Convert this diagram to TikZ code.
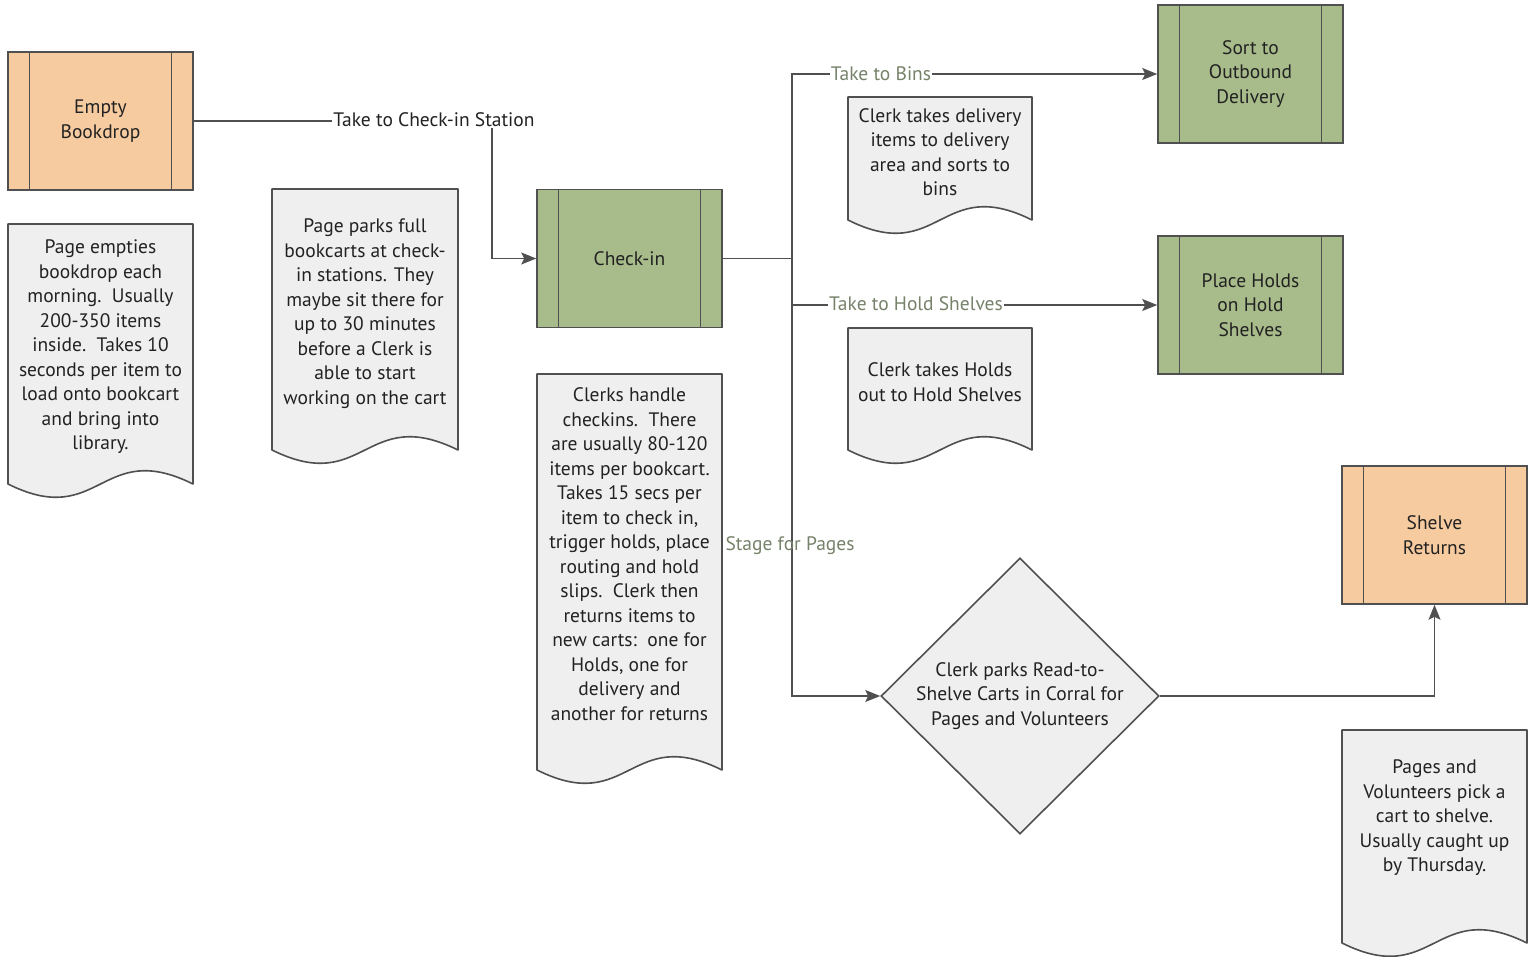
\documentclass[tikz,border=0pt]{standalone}
\usepackage{fontspec}
\setmainfont{PT Sans}
\usetikzlibrary{shapes.geometric,arrows.meta,calc}

\definecolor{edge}{HTML}{505050}
\definecolor{orangefill}{HTML}{F7CBA0}
\definecolor{greenfill}{HTML}{A8BB8A}
\definecolor{docfill}{HTML}{EFEFEF}
\definecolor{txt}{HTML}{222222}
\definecolor{lblgreen}{HTML}{76826A}

\tikzset{
  proc/.style={draw=edge, line width=1.6pt, minimum width=185pt, minimum height=138pt,
    inner sep=0pt, align=center, font=\fontsize{19.5}{24.5}\selectfont, text=txt},
  orangeproc/.style={proc, fill=orangefill},
  greenproc/.style={proc, fill=greenfill},
  doctext/.style={align=center, inner sep=0pt, font=\fontsize{19.5}{24.5}\selectfont, text=txt},
  docline/.style={draw=edge, fill=docfill, line width=1.6pt, line join=round},
  conn/.style={draw=edge, line width=1.3pt},
  flow/.style={conn, -{Stealth[length=15pt, width=12pt, inset=3pt]}},
  lbl/.style={inner sep=1pt, font=\fontsize{19.5}{22}\selectfont, text=txt},
  glbl/.style={lbl, text=lblgreen},
  decision/.style={diamond, draw=edge, fill=docfill, line width=1.6pt, aspect=1,
    minimum width=278pt, minimum height=276pt, inner sep=0pt},
}

% process box with the two inner vertical bars
\newcommand\procbars[1]{%
  \draw[edge, line width=1.4pt] ([xshift=22.5pt]#1.north west) -- ([xshift=22.5pt]#1.south west);
  \draw[edge, line width=1.4pt] ([xshift=-22.5pt]#1.north east) -- ([xshift=-22.5pt]#1.south east);
}

% document shape: name, left x, top y, right x, y where the sides end, text centre y, text
\newcommand\docshape[7]{%
  \pgfmathsetmacro\dxm{(#2+#4)/2}%
  \draw[docline] (#2,#5) -- (#2,#3) -- (#4,#3) -- (#4,#5)
     .. controls (\dxm,#5-46) and (\dxm,#5+46) .. (#2,#5) -- cycle;
  \node[doctext] (#1) at (\dxm,#6) {#7};
}

\begin{document}
\begin{tikzpicture}[x=1pt, y=-1pt]
\useasboundingbox[fill=white] (0,0) rectangle (1528,956);

% process steps
\node[orangeproc] (bookdrop) at (100.5,121) {Empty\\Bookdrop};
\procbars{bookdrop}
\node[greenproc] (checkin) at (629.5,258.5) {Check-in};
\procbars{checkin}
\node[greenproc] (sort) at (1250.5,74) {Sort to\\Outbound\\Delivery};
\procbars{sort}
\node[greenproc] (holds) at (1250.5,305) {Place Holds\\on Hold\\Shelves};
\procbars{holds}
\node[orangeproc] (shelve) at (1434.5,535) {Shelve\\Returns};
\procbars{shelve}

% decision
\node[decision, label={[doctext]center:Clerk parks Read-to-\\Shelve Carts in Corral for\\Pages and Volunteers}] (corral) at (1020,696) {};

% notes
\docshape{note1}{8}{224}{193}{484}{347}{Page empties\\bookdrop each\\morning.\ \ Usually\\200-350 items\\inside.\ \ Takes 10\\seconds per item to\\load onto bookcart\\and bring into\\library.}
\docshape{note2}{272}{189}{458}{450}{313.5}{Page parks full\\bookcarts at check-\\in stations. They\\maybe sit there for\\up to 30 minutes\\before a Clerk is\\able to start\\working on the cart}
\docshape{note3}{537}{374}{722}{770}{554}{Clerks handle\\checkins.\ \ There\\are usually 80-120\\items per bookcart.\\Takes 15 secs per\\item to check in,\\trigger holds, place\\routing and hold\\slips.\ \ Clerk then\\returns items to\\new carts:\ \ one for\\Holds, one for\\delivery and\\another for returns}
\docshape{note4}{848}{97}{1032}{220}{152}{Clerk takes delivery\\items to delivery\\area and sorts to\\bins}
\docshape{note5}{848}{328}{1032}{450}{382}{Clerk takes Holds\\out to Hold Shelves}
\docshape{note6}{1342}{730}{1527}{943}{818}{Pages and\\Volunteers pick a\\cart to shelve.\\Usually caught up\\by Thursday.}

% connectors
\coordinate (bend) at (492,121);
\coordinate (trunk) at (792,258.5);
\draw[flow] (bookdrop.east) -- (bend) |- (checkin.west);
\node[lbl, fill=white] (lcheck) at (434,120) {Take to Check-in Station};

\draw[conn] (checkin.east) -- (trunk);
\draw[flow] (trunk) |- (sort.west);
\draw[flow] (trunk) |- (holds.west);
\draw[flow] (trunk) |- (corral.west);
\node[glbl, fill=white] (lbins) at (881,74) {Take to Bins};
\node[glbl, fill=white] (lhold) at (916,304) {Take to Hold Shelves};
\node[glbl] (lstage) at (790,546) {Stage for Pages};

\draw[flow] (corral.east) -| (shelve.south);
\end{tikzpicture}
\end{document}
